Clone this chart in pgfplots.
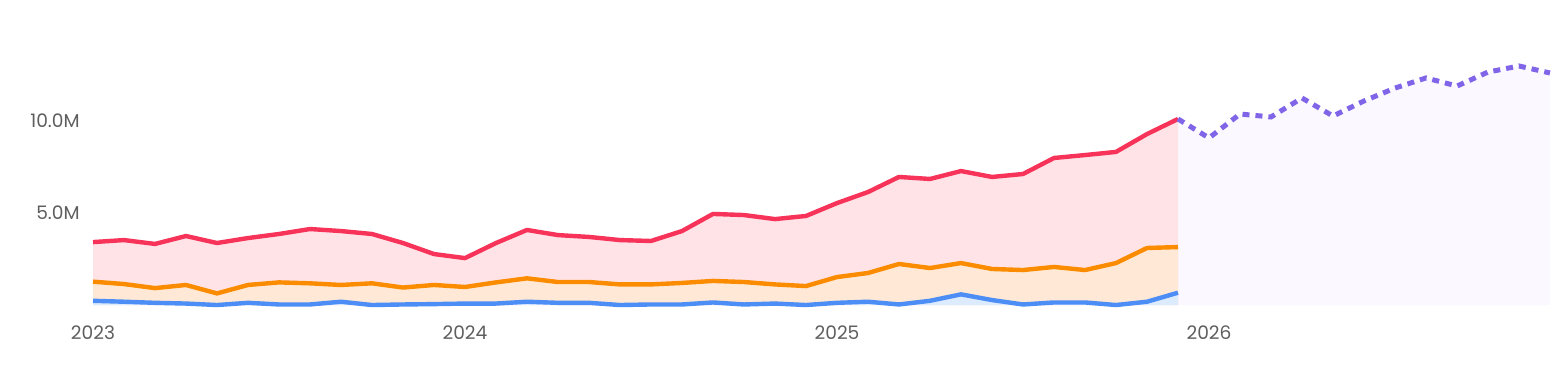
\documentclass[border=0pt]{standalone}
\usepackage{pgfplots}
\pgfplotsset{compat=1.18}
\usepackage{fontspec}
\setmainfont{Poppins}
\definecolor{cred}{HTML}{F7335A}
\definecolor{corange}{HTML}{FB8C00}
\definecolor{cblue}{HTML}{4C8DF6}
\definecolor{cpurple}{HTML}{8065E8}
\definecolor{fred}{HTML}{FFE3E7}
\definecolor{forange}{HTML}{FFE9D6}
\definecolor{fblue}{HTML}{DDEBFF}
\definecolor{fpurple}{HTML}{FBF8FF}
\definecolor{tgray}{HTML}{5E5E5E}
\begin{document}
\begin{tikzpicture}
\begin{axis}[
  at={(0,0)}, anchor=south west,
  scale only axis, width=728.5pt, height=130.65pt,
  xmin=0, xmax=47, ymin=-0.2, ymax=14,
  axis line style={draw=none}, tick style={draw=none},
  xtick={0,12,24,36}, xticklabels={2023,2024,2025,2026},
  ytick={5,10}, yticklabels={5.0M,10.0M},
  xticklabel style={inner sep=0pt, anchor=north, yshift=-8.5pt, font=\fontsize{9.3}{11}\selectfont, text=tgray},
  yticklabel style={inner sep=0pt, anchor=east, xshift=-6.5pt, font=\fontsize{9.3}{11}\selectfont, text=tgray},
  /pgf/number format/assume math mode=true,
  clip=false,
]
% forecast area
\addplot[draw=none, fill=fpurple] coordinates {
(35,0)(35,10.11)(36,9.08)(37,10.38)(38,10.22)(39,11.25)(40,10.27)(41,11.09)(42,11.79)(43,12.34)(44,11.90)(45,12.66)(46,12.99)(47,12.61)(47,0)} -- cycle;
% red area
\addplot[draw=none, fill=fred] coordinates {
(0,3.42)(1,3.53)(2,3.32)(3,3.75)(4,3.37)(5,3.64)(6,3.86)(7,4.13)(8,4.02)(9,3.86)(10,3.37)(11,2.77)(12,2.55)(13,3.37)(14,4.08)(15,3.80)(16,3.70)(17,3.53)(18,3.48)(19,4.02)(20,4.95)(21,4.89)(22,4.67)(23,4.84)(24,5.54)(25,6.14)(26,6.96)(27,6.85)(28,7.28)(29,6.96)(30,7.12)(31,7.99)(32,8.15)(33,8.32)(34,9.29)(35,10.11)} \closedcycle;
% orange area
\addplot[draw=none, fill=forange] coordinates {
(0,1.27)(1,1.14)(2,0.92)(3,1.09)(4,0.63)(5,1.09)(6,1.23)(7,1.18)(8,1.09)(9,1.18)(10,0.95)(11,1.09)(12,0.98)(13,1.23)(14,1.45)(15,1.25)(16,1.25)(17,1.12)(18,1.12)(19,1.20)(20,1.31)(21,1.25)(22,1.12)(23,1.03)(24,1.52)(25,1.74)(26,2.23)(27,2.01)(28,2.28)(29,1.96)(30,1.90)(31,2.07)(32,1.90)(33,2.28)(34,3.10)(35,3.15)} \closedcycle;
% blue area
\addplot[draw=none, fill=fblue] coordinates {
(0,0.23)(1,0.18)(2,0.12)(3,0.08)(4,0.0)(5,0.12)(6,0.03)(7,0.03)(8,0.18)(9,0.0)(10,0.03)(11,0.05)(12,0.08)(13,0.08)(14,0.18)(15,0.12)(16,0.12)(17,0.0)(18,0.03)(19,0.03)(20,0.14)(21,0.03)(22,0.08)(23,0.0)(24,0.12)(25,0.18)(26,0.03)(27,0.23)(28,0.58)(29,0.27)(30,0.03)(31,0.14)(32,0.14)(33,0.0)(34,0.18)(35,0.67)} \closedcycle;
% lines
\addplot[cblue, line width=2.2pt, line join=round] coordinates {
(0,0.23)(1,0.18)(2,0.12)(3,0.08)(4,0.0)(5,0.12)(6,0.03)(7,0.03)(8,0.18)(9,0.0)(10,0.03)(11,0.05)(12,0.08)(13,0.08)(14,0.18)(15,0.12)(16,0.12)(17,0.0)(18,0.03)(19,0.03)(20,0.14)(21,0.03)(22,0.08)(23,0.0)(24,0.12)(25,0.18)(26,0.03)(27,0.23)(28,0.58)(29,0.27)(30,0.03)(31,0.14)(32,0.14)(33,0.0)(34,0.18)(35,0.67)};
\addplot[corange, line width=2.2pt, line join=round] coordinates {
(0,1.27)(1,1.14)(2,0.92)(3,1.09)(4,0.63)(5,1.09)(6,1.23)(7,1.18)(8,1.09)(9,1.18)(10,0.95)(11,1.09)(12,0.98)(13,1.23)(14,1.45)(15,1.25)(16,1.25)(17,1.12)(18,1.12)(19,1.20)(20,1.31)(21,1.25)(22,1.12)(23,1.03)(24,1.52)(25,1.74)(26,2.23)(27,2.01)(28,2.28)(29,1.96)(30,1.90)(31,2.07)(32,1.90)(33,2.28)(34,3.10)(35,3.15)};
\addplot[cred, line width=2.2pt, line join=round] coordinates {
(0,3.42)(1,3.53)(2,3.32)(3,3.75)(4,3.37)(5,3.64)(6,3.86)(7,4.13)(8,4.02)(9,3.86)(10,3.37)(11,2.77)(12,2.55)(13,3.37)(14,4.08)(15,3.80)(16,3.70)(17,3.53)(18,3.48)(19,4.02)(20,4.95)(21,4.89)(22,4.67)(23,4.84)(24,5.54)(25,6.14)(26,6.96)(27,6.85)(28,7.28)(29,6.96)(30,7.12)(31,7.99)(32,8.15)(33,8.32)(34,9.29)(35,10.11)};
\addplot[cpurple, line width=2.5pt, dash pattern=on 3.5pt off 3pt] coordinates {
(35,10.11)(36,9.08)(37,10.38)(38,10.22)(39,11.25)(40,10.27)(41,11.09)(42,11.79)(43,12.34)(44,11.90)(45,12.66)(46,12.99)(47,12.61)};
\end{axis}
\pgfresetboundingbox
\path[use as bounding box] (-46.5pt,-36.65pt) rectangle (736.5pt,154.35pt);
\end{tikzpicture}
\end{document}
